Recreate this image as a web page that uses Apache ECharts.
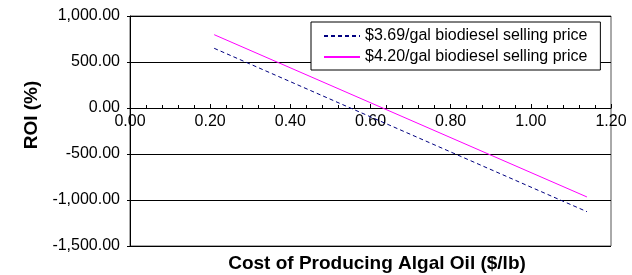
<!DOCTYPE html>
<html>
<head>
<meta charset="utf-8">
<script src="https://cdn.jsdelivr.net/npm/echarts@6/dist/echarts.min.js"></script>
<style>
  html, body { margin: 0; padding: 0; background: #fff; }
  #chart { width: 632px; height: 275px; }
</style>
</head>
<body>
<div id="chart"></div>
<script>
'use strict';

// --- values
var costs = [0.21, 1.14];
var roiLow = [649, -1127];   // $3.69/gal
var roiHigh = [797, -967];   // $4.20/gal
var seriesNames = ['$3.69/gal biodiesel selling price', '$4.20/gal biodiesel selling price'];
var yTicks = [-1500, -1000, -500, 0, 500, 1000];
var xTicks = [0, 0.2, 0.4, 0.6, 0.8, 1.0, 1.2];

var font = '"Liberation Sans", Arial, sans-serif';

function withCommas(v) {
  var s = Math.abs(v).toFixed(2);
  var parts = s.split('.');
  parts[0] = parts[0].replace(/\B(?=(\d{3})+(?!\d))/g, ',');
  return (v < 0 ? '-' : '') + parts.join('.');
}

function pairs(xs, ys) {
  return xs.map(function (x, i) { return [x, ys[i]]; });
}

var myChart = echarts.init(document.getElementById('chart'), null, { renderer: 'canvas' });

// grid is 230px tall, y runs -1500..1000 -> zero sits 138px above the bottom
var zeroOffset = -230 * (0 - yTicks[0]) / (yTicks[yTicks.length - 1] - yTicks[0]);

var option = {
  animation: false,
  backgroundColor: '#fff',
  textStyle: { fontFamily: font },
  grid: {
    left: 130, right: 21, top: 16, bottom: 29,
    show: true,
    borderColor: '#555',
    borderWidth: 1
  },
  legend: {
    orient: 'vertical',
    left: 311,
    top: 22,
    backgroundColor: '#fff',
    borderColor: '#000',
    borderWidth: 1,
    padding: [6, 13, 5, 12],
    itemWidth: 36,
    itemHeight: 14,
    itemGap: 5,
    itemStyle: { opacity: 0 },
    textStyle: { fontFamily: font, fontSize: 16, lineHeight: 16, color: '#000' },
    data: seriesNames
  },
  xAxis: {
    type: 'value',
    position: 'bottom',
    offset: zeroOffset,
    min: xTicks[0],
    max: xTicks[xTicks.length - 1],
    interval: 0.2,
    axisLine: { onZero: false, lineStyle: { color: '#000', width: 1 } },
    axisTick: { show: true, inside: true, length: 4, lineStyle: { color: '#000' } },
    minorTick: { show: true, splitNumber: 5, length: 3, lineStyle: { color: '#000' } },
    axisLabel: {
      color: '#000', fontSize: 16, fontFamily: font, margin: 6,
      formatter: function (v) { return v.toFixed(2); }
    },
    splitLine: { show: false }
  },
  yAxis: {
    type: 'value',
    min: yTicks[0],
    max: yTicks[yTicks.length - 1],
    interval: 500,
    axisLine: { show: true, onZero: false, lineStyle: { color: '#000', width: 1 } },
    axisTick: { show: true, length: 3, lineStyle: { color: '#000' } },
    axisLabel: {
      color: '#000', fontSize: 16, fontFamily: font, margin: 10,
      formatter: withCommas
    },
    splitLine: { show: true, lineStyle: { color: '#000', width: 1 } }
  },
  graphic: [
    {
      type: 'text',
      x: 32, y: 115,
      rotation: Math.PI / 2,
      style: {
        text: 'ROI (%)',
        font: 'bold 19px ' + font,
        fill: '#000',
        textAlign: 'center',
        textVerticalAlign: 'middle'
      }
    },
    {
      type: 'text',
      x: 377, y: 264,
      style: {
        text: 'Cost of Producing Algal Oil ($/lb)',
        font: 'bold 19px ' + font,
        fill: '#000',
        textAlign: 'center',
        textVerticalAlign: 'middle'
      }
    }
  ],
  series: [
    {
      name: seriesNames[0],
      type: 'line',
      symbol: 'none',
      data: pairs(costs, roiLow),
      lineStyle: { color: '#000080', width: 1, type: [4, 3] },
      itemStyle: { color: '#000080' }
    },
    {
      name: seriesNames[1],
      type: 'line',
      symbol: 'none',
      data: pairs(costs, roiHigh),
      lineStyle: { color: '#ff00ff', width: 1, type: 'solid' },
      itemStyle: { color: '#ff00ff' }
    }
  ]
};

myChart.setOption(option);
</script>
</body>
</html>
